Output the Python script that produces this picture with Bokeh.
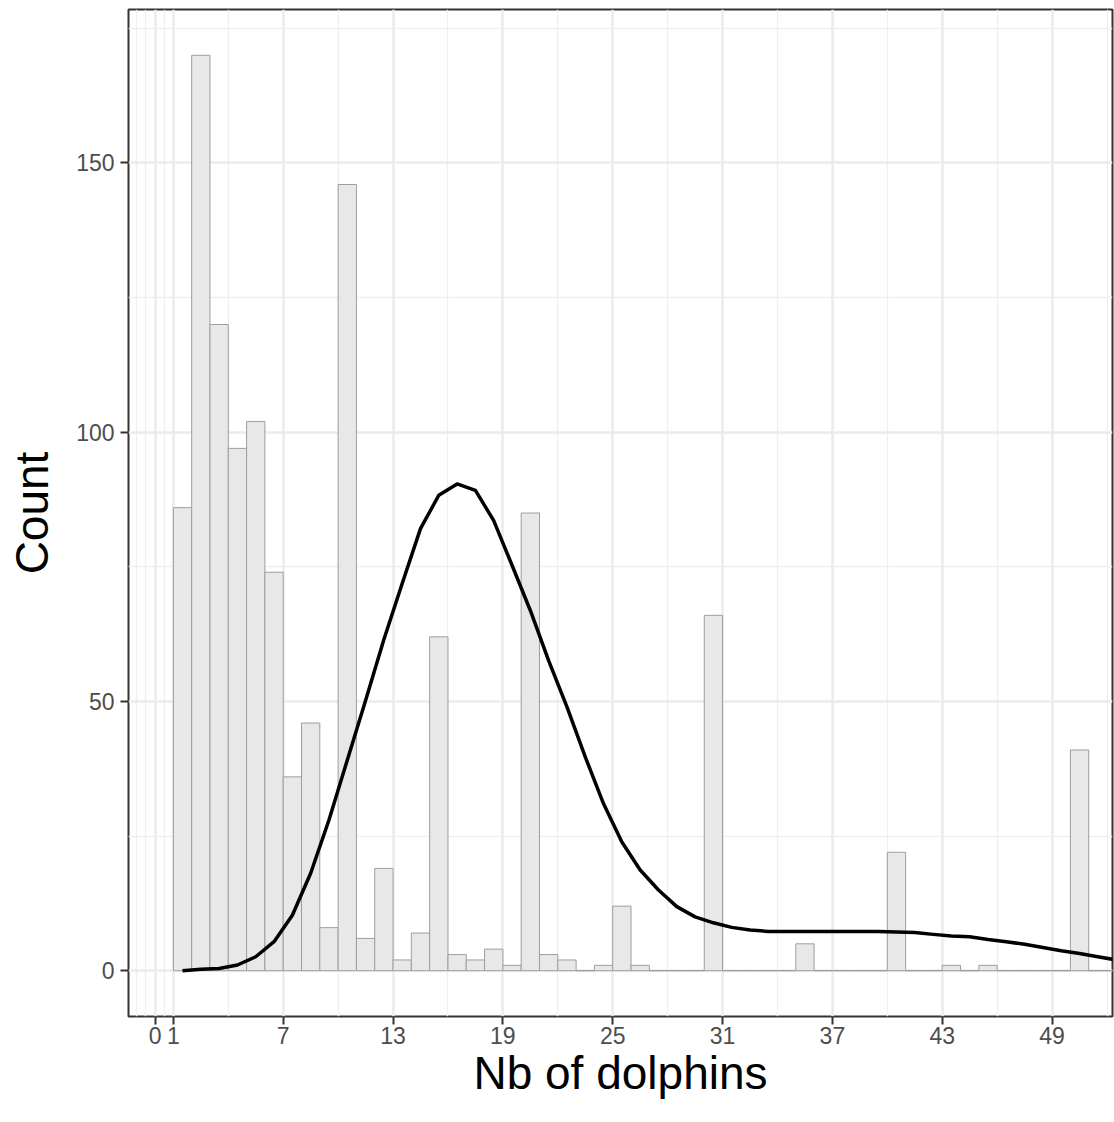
from bokeh.plotting import figure
from bokeh.models import Range1d, FixedTicker, ColumnDataSource
from bokeh.embed import file_html
from bokeh.resources import INLINE

# ---- data ----
bin_left = list(range(1, 53))
counts = [86, 170, 120, 97, 102, 74, 36, 46, 8, 146,
          6, 19, 2, 7, 62, 3, 2, 4, 1, 85,
          3, 2, 0, 1, 12, 1, 0, 0, 0, 66,
          0, 0, 0, 0, 5, 0, 0, 0, 0, 22,
          0, 0, 1, 0, 1, 0, 0, 0, 0, 41,
          0, 0]

curve_x = [1.5, 2.5, 3.5, 4.5, 5.5, 6.5, 7.5, 8.5, 9.5, 10.5,
           11.5, 12.5, 13.5, 14.5, 15.5, 16.5, 17.5, 18.5, 19.5, 20.5,
           21.5, 22.5, 23.5, 24.5, 25.5, 26.5, 27.5, 28.5, 29.5, 30.5,
           31.5, 32.5, 33.5, 34.5, 35.5, 36.5, 37.5, 38.5, 39.5, 40.5,
           41.5, 42.5, 43.5, 44.5, 45.5, 46.5, 47.5, 48.5, 49.5, 50.5,
           51.5, 52.5]
curve_y = [0.0, 0.26, 0.4, 1.06, 2.6, 5.4, 10.3, 18.1, 28.0, 39.1,
           50.2, 61.5, 71.9, 82.1, 88.3, 90.4, 89.2, 83.6, 75.3, 66.9,
           57.6, 49.0, 39.7, 31.0, 23.9, 18.7, 15.0, 11.9, 10.0, 8.9,
           8.05, 7.55, 7.3, 7.3, 7.3, 7.3, 7.3, 7.3, 7.3, 7.2,
           7.1, 6.75, 6.45, 6.3, 5.8, 5.4, 4.9, 4.3, 3.7, 3.2,
           2.6, 2.0]

x_ticks = [0, 1, 7, 13, 19, 25, 31, 37, 43, 49]
x_minor = [-1, -0.5, 0.5, 4, 10, 16, 22, 28, 34, 40, 46, 52]
y_ticks = [0, 50, 100, 150]
y_minor = [25, 75, 125, 175]

x_title = "Nb of dolphins"
y_title = "Count"

# ---- figure ----
p = figure(width=1114, height=1122, output_backend="svg", toolbar_location=None,
           x_range=Range1d(-1.45, 52.3), y_range=Range1d(-8.5, 178.5),
           min_border_left=128, min_border_right=2, min_border_top=9, min_border_bottom=106)

p.background_fill_color = "white"
p.border_fill_color = "white"
p.outline_line_color = "#333333"
p.outline_line_width = 2

src = ColumnDataSource(dict(left=bin_left, right=[b + 1 for b in bin_left], top=counts,
                            bottom=[0] * len(counts)))
p.quad(left="left", right="right", top="top", bottom="bottom", source=src,
       fill_color="#E8E8E8", line_color="#9E9E9E", line_width=1)

p.line(curve_x, curve_y, line_color="black", line_width=3.5, line_join="round")

xt = FixedTicker(ticks=x_ticks, minor_ticks=x_minor)
yt = FixedTicker(ticks=y_ticks, minor_ticks=y_minor)
p.xaxis.ticker = xt
p.yaxis.ticker = yt
p.xgrid.ticker = xt
p.ygrid.ticker = yt

for g in (p.xgrid, p.ygrid):
    g.grid_line_color = "#EBEBEB"
    g.grid_line_width = 2.5
    g.minor_grid_line_color = "#EFEFEF"
    g.minor_grid_line_width = 1.3
    g.level = "underlay"

for ax in (p.xaxis, p.yaxis):
    ax.axis_line_color = None
    ax.major_tick_line_color = "#333333"
    ax.major_tick_line_width = 2
    ax.major_tick_out = 8
    ax.major_tick_in = 0
    ax.minor_tick_line_color = None
    ax.major_label_text_font = "Liberation Sans"
    ax.major_label_text_font_size = "23px"
    ax.major_label_text_color = "#4D4D4D"
    ax.axis_label_text_font = "Liberation Sans"
    ax.axis_label_text_font_size = "46px"
    ax.axis_label_text_font_style = "normal"
    ax.axis_label_text_color = "black"

p.xaxis.axis_label = x_title
p.yaxis.axis_label = y_title
p.xaxis.major_label_standoff = 2
p.yaxis.major_label_standoff = 6
p.xaxis.axis_label_standoff = 0
p.yaxis.axis_label_standoff = 15

open("out.html", "w").write(file_html(p, INLINE))
